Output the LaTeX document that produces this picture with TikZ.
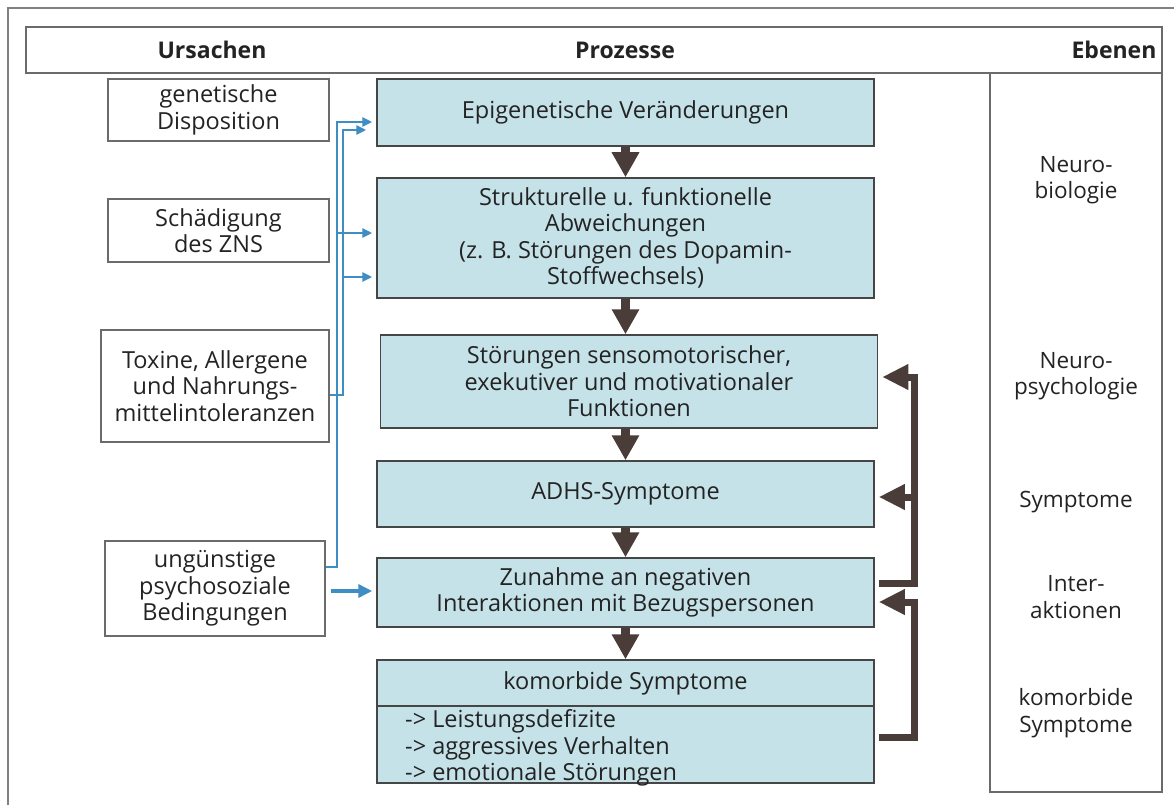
\documentclass[tikz,border=0pt]{standalone}
\usepackage{fontspec}
\setmainfont{Open Sans}
\usetikzlibrary{arrows.meta}
\definecolor{kasten}{RGB}{197,226,233}
\definecolor{rahmen}{RGB}{70,70,70}
\definecolor{braun}{RGB}{74,60,56}
\definecolor{blaulinie}{RGB}{62,142,196}
\definecolor{schrift}{RGB}{35,35,35}
\begin{document}
\begin{tikzpicture}[x=1pt, y=-1pt,
    font=\fontsize{23.5}{26.5}\selectfont, text=schrift,
    ursache/.style = {draw=rahmen!80, line width=1.2pt, fill=white, align=center, inner sep=0pt},
    prozess/.style = {draw=rahmen, line width=1.5pt, fill=kasten, align=center, inner sep=0pt,
                      minimum width=497pt},
    ebene/.style = {align=center, font=\fontsize{22.5}{26.5}\selectfont},
    kopf/.style = {font=\fontsize{23}{26}\selectfont\bfseries},
    pfeil/.style = {braun, line width=9pt, -{Triangle[length=25pt, width=26pt]}},
    rueck/.style = {braun, line width=7pt, line join=miter, -{Triangle[length=26pt, width=24pt]},
                    shorten >=4pt},
    blau/.style = {blaulinie, line width=2.6pt, -{Triangle[length=10pt, width=9pt]}, shorten >=4pt}]
  \useasboundingbox (0,0) rectangle (1174,805);
  \fill[white] (0,0) rectangle (1174,805);
  \draw[gray, line width=1.2pt] (8,805) -- (8,8) -- (1174,8);

  % Kopfzeile und Spalte rechts
  \node[draw=rahmen!80, line width=1.2pt, minimum width=1136pt, minimum height=46pt, inner sep=0pt]
    (kopf) at (594,50) {};
  \node[kopf] (ursachen) at (212,50) {Ursachen};
  \node[kopf] (prozesse) at (625,50) {Prozesse};
  \node[kopf] (ebenen) at (1114,50) {Ebenen};
  \node[draw=rahmen!80, line width=1.2pt, minimum width=172pt, minimum height=719pt, inner sep=0pt]
    (spalte) at (1076,432.5) {};
  \node[ebene] (neurobio) at (1076,180) {Neuro-\\biologie};
  \node[ebene] (neuropsy) at (1076,376) {Neuro-\\psychologie};
  \node[ebene] (sympt) at (1076,502) {Symptome};
  \node[ebene] (inter) at (1076,597) {Inter-\\aktionen};
  \node[ebene] (komorb) at (1076,713) {komorbide\\Symptome};

  % Ursachen
  \node[ursache, minimum width=221pt, minimum height=62pt] (gen) at (218.5,110) {genetische\\Disposition};
  \node[ursache, minimum width=221pt, minimum height=63pt] (zns) at (218.5,230.5) {Schädigung\\des ZNS};
  \node[ursache, minimum width=228pt, minimum height=112pt] (tox) at (215,386)
    {Toxine, Allergene\\und Nahrungs-\\mittelintoleranzen};
  \node[ursache, minimum width=220pt, minimum height=95pt] (psy) at (215,588.5)
    {ungünstige\\psychosoziale\\Bedingungen};

  % Prozesse
  \node[prozess, minimum height=67pt] (epi) at (625.5,112.5) {Epigenetische Veränderungen};
  \node[prozess, minimum height=120pt] (str) at (625.5,238)
    {Strukturelle u. funktionelle\\Abweichungen\\(z. B. Störungen des Dopamin-\\Stoffwechsels)};
  \node[prozess, minimum height=93pt] (sen) at (629,381.5)
    {Störungen sensomotorischer,\\exekutiver und motivationaler\\Funktionen};
  \node[prozess, minimum height=66pt] (adhs) at (625.5,494) {ADHS-Symptome};
  \node[prozess, minimum height=69pt] (zun) at (625.5,592.5)
    {Zunahme an negativen\\Interaktionen mit Bezugspersonen};
  \node[prozess, minimum height=123pt] (kom) at (625.5,721.5) {};
  \draw[rahmen, line width=1.5pt] (kom.west |- 0,706) -- (kom.east |- 0,706);
  \node (komtitel) at (625.5,683) {komorbide Symptome};
  \node[anchor=west, align=left, inner sep=0pt] (komliste) at (405,748)
    {-> Leistungsdefizite\\-> aggressives Verhalten\\-> emotionale Störungen};

  % Abfolge
  \foreach \a/\b in {epi/str, str/sen, sen/adhs, adhs/zun, zun/kom}
    \draw[pfeil] (\a.south -| 625.5,0) -- (\b.north -| 625.5,0);

  % Rueckkopplungen
  \draw[rueck, shorten <=4pt] (zun.east |- 0,583) -| (914,377) -- (sen.east |- 0,377);
  \draw[rueck] (914,497) -- (adhs.east |- 0,497);
  \draw[rueck, shorten <=4pt] (kom.east |- 0,737) -| (914,602) -- (zun.east |- 0,602);

  % Einfluesse
  \draw[blau, line join=miter] (psy.east |- 0,567) -| (337,122) -- (epi.west |- 0,122);
  \draw[blau] (337,233) -- (str.west |- 0,233);
  \draw[blau, line join=miter, shorten >=10pt] (tox.east |- 0,395) -| (343,130) -- (epi.west |- 0,130);
  \draw[blau] (343,277) -- (str.west |- 0,277);
  \draw[blau, line width=4pt, shorten <=5pt, -{Triangle[length=14pt, width=13pt]}]
    (psy.east |- 0,591) -- (zun.west |- 0,591);
\end{tikzpicture}
\end{document}
